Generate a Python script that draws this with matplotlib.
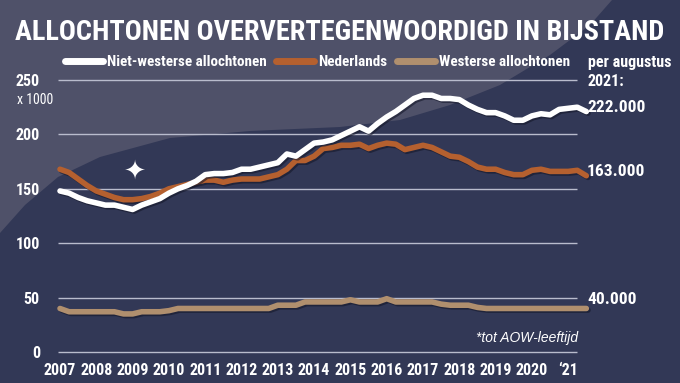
import os
import numpy as np
import matplotlib
matplotlib.use("Agg")
import matplotlib.pyplot as plt
import matplotlib.patheffects as pe
from matplotlib import font_manager as fm
from matplotlib.lines import Line2D
from matplotlib.patches import Polygon

# quarterly readings, Q1 2007 .. Q3 2021 (x 1000)
years = 2007 + np.arange(59) / 4
niet_westers = [148, 146, 142, 139, 137, 135, 135, 133, 131, 135,
                138, 141, 146, 150, 153, 157, 163, 164, 164, 165,
                168, 168, 170, 172, 174, 182, 180, 186, 192, 193,
                195, 199, 203, 207, 203, 210, 216, 221, 227, 233,
                236, 236, 233, 233, 232, 227, 223, 220, 220, 217,
                213, 213, 217, 219, 218, 223, 224, 225, 221]
nederlands = [168, 165, 159, 153, 148, 145, 142, 140, 140, 141,
              143, 146, 150, 152, 154, 156, 158, 158, 156, 158,
              159, 159, 159, 161, 163, 168, 176, 176, 180, 187,
              188, 190, 190, 191, 187, 190, 192, 191, 186, 188,
              190, 188, 184, 180, 179, 175, 170, 168, 168, 165,
              163, 163, 167, 168, 166, 166, 166, 167, 162]
westers = [40, 37, 37, 37, 37, 37, 37, 35, 35, 37,
           37, 37, 38, 40, 40, 40, 40, 40, 40, 40,
           40, 40, 40, 40, 43, 43, 43, 46, 46, 46,
           46, 46, 48, 46, 46, 46, 49, 46, 46, 46,
           46, 46, 44, 43, 43, 43, 41, 40, 40, 40,
           40, 40, 40, 40, 40, 40, 40, 40, 40]

series_names = ["Niet-westerse allochtonen", "Nederlands", "Westerse allochtonen"]
end_labels = ["222.000", "163.000", "40.000"]
year_ticks = list(range(2007, 2022))
year_labels = [str(y) for y in range(2007, 2021)] + ["\u201821"]
y_ticks = [0, 50, 100, 150, 200]

WHITE = "#ffffff"
ORANGE = "#b5602f"
TAN = "#b08f6e"
DARK = "#323856"
GREY = "#4f5169"
GRID = "#b9bccd"


def find_font(bold):
    # look for a narrow / condensed face, otherwise plain DejaVu
    best = None
    for f in fm.fontManager.ttflist:
        base = os.path.basename(f.fname).lower()
        if not ("narrow" in base or "condensed" in base):
            continue
        if "italic" in base or "oblique" in base:
            continue
        if bold and "bold" not in base:
            continue
        if not bold and ("bold" in base or "light" in base or "semi" in base or "extra" in base):
            continue
        if "semibold" in base or "extrabold" in base or "extracondensed" in base or "semicondensed" in base:
            continue
        rank = 0 if "liberation" in base else 1 if "roboto" in base else 2
        if best is None or rank < best[0]:
            best = (rank, f.fname)
    if best:
        return fm.FontProperties(fname=best[1])
    return fm.FontProperties(family="DejaVu Sans", weight="bold" if bold else "normal")


BOLD = find_font(True)
REG = find_font(False)

W, H = 680, 383
fig = plt.figure(figsize=(6.8, 3.83), dpi=100, facecolor=DARK)

# lighter background shape, upper left
curve = [(0, 0), (0, 233), (25, 205), (58, 177), (100, 157), (170, 138),
         (250, 131), (340, 127), (400, 120), (450, 105), (500, 85),
         (550, 55), (590, 25), (612, 0)]
fig.patches.append(Polygon([(x / W, 1 - y / H) for x, y in curve], closed=True,
                           transform=fig.transFigure, facecolor=GREY,
                           edgecolor="none", zorder=-5))

ax = fig.add_axes([42 / W, 1 - 360 / H, (600 - 42) / W, (360 - 70) / H])
ax.set_facecolor("none")
ax.set_xlim(2006.504, 2021.876)
ax.set_ylim(-7.35, 259.2)
for s in ax.spines.values():
    s.set_visible(False)

ax.hlines([0, 50, 100, 150, 200, 250], 2006.95, 2021.25, color=GRID, lw=1, zorder=1)

shadow = [pe.SimpleLineShadow(offset=(1.2, -1.2), shadow_color="#15182a", alpha=0.6), pe.Normal()]
for vals, col in [(westers, TAN), (nederlands, ORANGE), (niet_westers, WHITE)]:
    ax.plot(years, vals, color=col, lw=4, solid_capstyle="round",
            solid_joinstyle="round", path_effects=shadow, zorder=3, clip_on=False)

ax.set_xticks(year_ticks)
ax.set_xticklabels(year_labels)
ax.set_yticks(y_ticks)
ax.set_yticklabels([str(v) for v in y_ticks])
ax.tick_params(length=0, colors=WHITE)
ax.tick_params(axis="x", pad=2)
ax.tick_params(axis="y", pad=1.5)
for lab in ax.get_xticklabels() + ax.get_yticklabels():
    lab.set_fontproperties(BOLD)
    lab.set_fontsize(11.5)


def ftext(x, y, s, fp, size, **kw):
    kw.setdefault("color", WHITE)
    kw.setdefault("va", "center")
    t = fig.text(x / W, 1 - y / H, s, fontproperties=fp, **kw)
    t.set_fontsize(size)
    return t


title = ftext(340, 33, "ALLOCHTONEN OVERVERTEGENWOORDIGD IN BIJSTAND", BOLD, 21, ha="center")
ftext(40, 81, "250", BOLD, 11.5, ha="right")
ftext(17, 100, "x 1000", REG, 10, ha="left")
ftext(588, 62, "per augustus", BOLD, 11.5)
ftext(588, 81, "2021:", BOLD, 11.5)
for lab, yy in zip(end_labels, [107, 172, 299]):
    ftext(587, yy, lab, BOLD, 12.5)
ftext(578, 338, "*tot AOW-leeftijd", fm.FontProperties(family="Liberation Sans", style="italic"),
      10, ha="right")
ftext(135, 172, "\u2726", fm.FontProperties(family="DejaVu Sans"), 19, ha="center")

handles = [Line2D([], [], color=c, lw=5, solid_capstyle="round") for c in (WHITE, ORANGE, TAN)]
leg_prop = BOLD.copy()
leg_prop.set_size(10.9)
leg = fig.legend(handles, series_names, loc="center left", bbox_to_anchor=(65 / W, 1 - 62 / H),
                 ncol=3, frameon=False, borderpad=0, borderaxespad=0, handlelength=2.5,
                 handletextpad=0.3, columnspacing=0.6, prop=leg_prop)
for t in leg.get_texts():
    t.set_color(WHITE)

# fit title to the reference width (15..665 px)
fig.canvas.draw()
bb = title.get_window_extent()
title.set_fontsize(21 * 650 / bb.width)

fig.savefig("out.png", dpi=100, facecolor=DARK)
